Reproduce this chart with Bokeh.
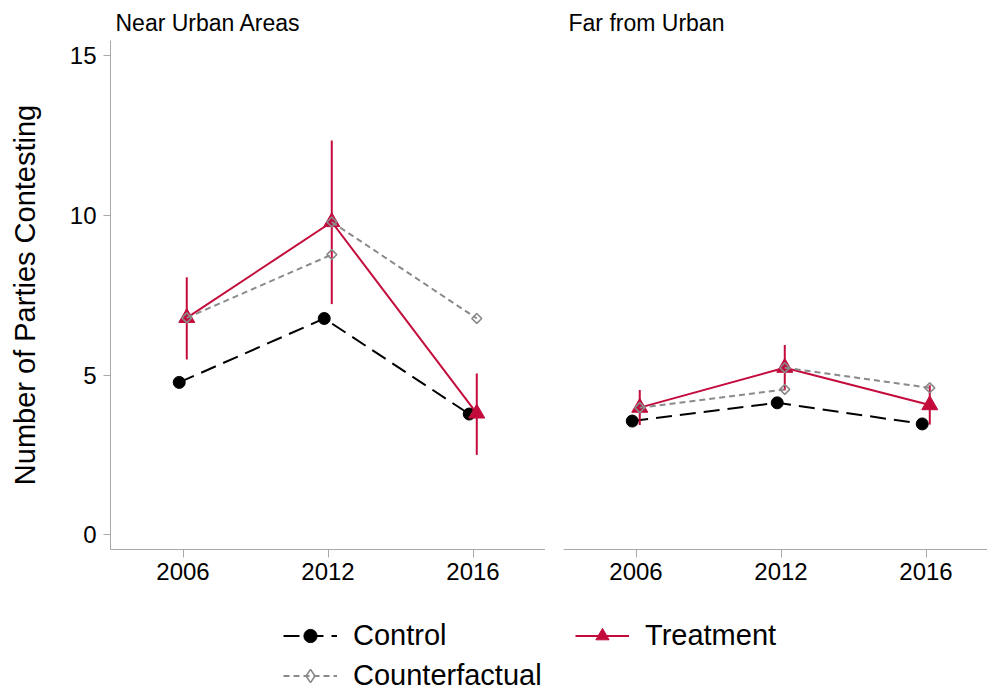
import numpy as np
from bokeh.plotting import figure
from bokeh.layouts import column, row
from bokeh.models import FixedTicker, Legend, LegendItem, Range1d
from bokeh.embed import file_html
from bokeh.resources import INLINE

# ---------------- data ----------------
periods = ["2006", "2012", "2016"]
panel_titles = ["Near Urban Areas", "Far from Urban"]

near_control = [4.77, 6.77, 3.78]
near_treatment = [6.79, 9.79, 3.80]
near_lower = [5.49, 7.22, 2.50]
near_upper = [8.06, 12.34, 5.05]
near_counterfactual = [None, 8.77, 6.77]

far_control = [3.56, 4.13, 3.47]
far_treatment = [3.98, 5.23, 4.06]
far_lower = [3.44, 4.52, 3.45]
far_upper = [4.53, 5.94, 4.68]
far_counterfactual = [None, 4.55, 4.60]

y_ticks = [0, 5, 10, 15]

# ---------------- style ----------------
FONT = "Liberation Sans"
RED = "#C30B3C"
GREY = "#8a8a8a"
AXIS = "#a9a9a9"
SHIFT = 0.026
TOP_H = 600

pos = np.arange(1, len(periods) + 1)


def make_panel(title, control, treatment, lower, upper, cf, width, mbl, x_end, show_y):
    p = figure(width=width, height=TOP_H, output_backend="svg", toolbar_location=None,
               x_range=Range1d(0.5, x_end), y_range=Range1d(-0.46, 15.47),
               min_border_left=mbl, min_border_right=0, min_border_top=40,
               min_border_bottom=51)
    p.grid.visible = False
    p.outline_line_color = None
    p.title.text = title
    p.title.text_font = FONT
    p.title.text_font_size = "23px"
    p.title.text_font_style = "normal"
    p.title.text_color = "black"
    p.title.align = "left"
    p.title.offset = 5
    p.title.standoff = 10

    xa = p.xaxis[0]
    xa.ticker = FixedTicker(ticks=pos.tolist())
    xa.major_label_overrides = {int(k): v for k, v in zip(pos, periods)}
    xa.axis_line_color = AXIS
    xa.major_tick_line_color = AXIS
    xa.minor_tick_line_color = None
    xa.major_tick_out = 8
    xa.major_tick_in = 0
    xa.major_label_standoff = 5
    xa.major_label_text_font = FONT
    xa.major_label_text_font_size = "24px"
    xa.major_label_text_color = "black"

    ya = p.yaxis[0]
    if show_y:
        ya.ticker = FixedTicker(ticks=y_ticks)
        ya.axis_line_color = AXIS
        ya.major_tick_line_color = AXIS
        ya.minor_tick_line_color = None
        ya.major_tick_out = 7
        ya.major_tick_in = 0
        ya.major_label_standoff = 7
        ya.major_label_text_font = FONT
        ya.major_label_text_font_size = "24px"
        ya.major_label_text_color = "black"
        ya.axis_label = "Number of Parties Contesting"
        ya.axis_label_text_font = FONT
        ya.axis_label_text_font_size = "29px"
        ya.axis_label_text_font_style = "normal"
        ya.axis_label_text_color = "black"
        ya.axis_label_standoff = 26
    else:
        ya.visible = False

    xc = pos - SHIFT
    xt = pos + SHIFT
    cf_arr = np.array([np.nan if v is None else v for v in cf], dtype=float)
    tr = np.array(treatment, dtype=float)

    # control
    p.line(xc, control, line_color="black", line_width=2, line_dash="16 8")
    p.scatter(xc, control, marker="circle", size=12, fill_color="black", line_color="black")
    # treatment
    p.line(xt, treatment, line_color=RED, line_width=2)
    p.scatter(xt, treatment, marker="triangle", size=16, fill_color=RED, line_color=RED)
    p.segment(xt, lower, xt, upper, line_color=RED, line_width=2)
    # counterfactual: from treatment at t-1 to counterfactual at t
    p.segment(xt[:-1], tr[:-1], xt[1:], cf_arr[1:], line_color=GREY, line_width=2,
              line_dash="6 4")
    p.scatter(xt[:-1], tr[:-1], marker="square", angle=np.pi / 4, size=7, fill_color=None,
              line_color=GREY, line_width=1.6)
    p.scatter(xt[1:], cf_arr[1:], marker="square", angle=np.pi / 4, size=7, fill_color=None,
              line_color=GREY, line_width=1.6)
    return p


left = make_panel(panel_titles[0], near_control, near_treatment, near_lower, near_upper,
                  near_counterfactual, width=545, mbl=110, x_end=3.5, show_y=True)
right = make_panel(panel_titles[1], far_control, far_treatment, far_lower, far_upper,
                   far_counterfactual, width=442, mbl=18, x_end=0.5 + 424 / 145.0, show_y=False)

# ---------------- legend ----------------
# legend renderers use the data, but the y range keeps them off the canvas
leg = figure(width=987, height=92, output_backend="svg", toolbar_location=None,
             x_range=Range1d(0, 4), y_range=Range1d(-100, -99), min_border=0)
leg.outline_line_color = None
leg.grid.visible = False
leg.axis.visible = False
cl = leg.line(pos, near_control, line_color="black", line_width=2, line_dash="16 8")
cm = leg.scatter(pos, near_control, marker="circle", size=12, fill_color="black",
                 line_color="black")
tl = leg.line(pos, near_treatment, line_color=RED, line_width=2)
tm = leg.scatter(pos, near_treatment, marker="triangle", size=16, fill_color=RED,
                 line_color=RED)
fl = leg.line(pos, near_treatment, line_color=GREY, line_width=2, line_dash="6 4")
fm = leg.scatter(pos, near_treatment, marker="diamond", size=12, fill_color=None,
                 line_color=GREY, line_width=1.6)
legend = Legend(items=[LegendItem(label="Control", renderers=[cl, cm]),
                       LegendItem(label="Treatment", renderers=[tl, tm]),
                       LegendItem(label="Counterfactual", renderers=[fl, fm])],
                orientation="horizontal", ncols=2, location=(283, 0),
                label_text_font=FONT, label_text_font_size="29px",
                label_text_color="black",
                label_standoff=16, glyph_width=54, glyph_height=33, label_width=215,
                spacing=7, padding=0, margin=0, border_line_color=None,
                background_fill_alpha=0)
leg.add_layout(legend)

layout = column(row(left, right), leg)
open("out.html", "w").write(file_html(layout, INLINE))
